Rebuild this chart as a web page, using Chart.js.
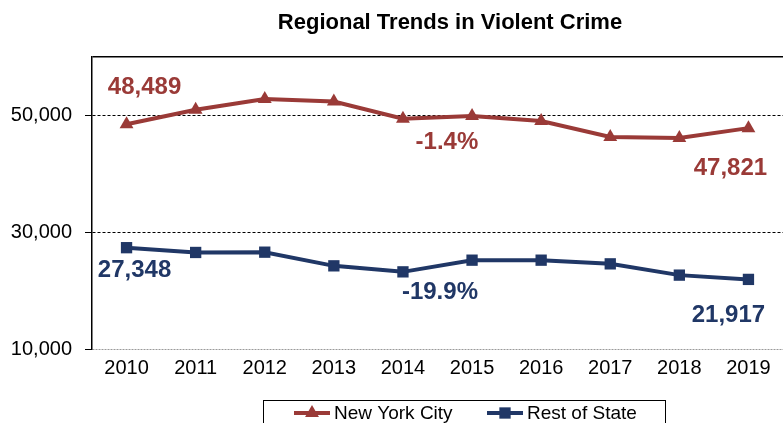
<!DOCTYPE html>
<html lang="en">
<head>
    <meta charset="UTF-8">
    <title>Regional Trends in Violent Crime</title>
    <script src="https://cdn.jsdelivr.net/npm/chart.js"></script>
    <style>
        html, body { margin: 0; padding: 0; background: #fff; }
        #wrap { width: 783px; height: 423px; }
    </style>
</head>
<body>
    <div id="wrap"><canvas id="crimeChart" width="783" height="423"></canvas></div>

    <script>
        const years = ["2010", "2011", "2012", "2013", "2014", "2015", "2016", "2017", "2018", "2019"];
        const nycValues = [48489, 50970, 52790, 52390, 49430, 49880, 49030, 46290, 46120, 47821];
        const restValues = [27348, 26530, 26580, 24240, 23210, 25210, 25210, 24580, 22650, 21917];
        const yTicks = [10000, 30000, 50000, 60000];

        const RED = "#9a3a37";
        const NAVY = "#203766";
        const FONT = "'Liberation Sans', Arial, sans-serif";

        // text callouts: [dataset, point index, text, dx, dy]
        const callouts = [
            [0, 0, "48,489", 18, -37],
            [0, 4, "-1.4%", 44, 24],
            [0, 9, "47,821", -18, 40],
            [1, 0, "27,348", 8, 23],
            [1, 4, "-19.9%", 37, 21],
            [1, 9, "21,917", -20, 36]
        ];

        const extras = {
            id: "extras",
            afterDraw(chart) {
                const ctx = chart.ctx;
                ctx.save();
                // title
                ctx.fillStyle = "#000";
                ctx.font = "bold 22px " + FONT;
                ctx.textAlign = "center";
                ctx.textBaseline = "middle";
                ctx.fillText("Regional Trends in Violent Crime", 450, 23);

                // callouts
                ctx.font = "bold 24px " + FONT;
                callouts.forEach(([ds, i, txt, dx, dy]) => {
                    const pt = chart.getDatasetMeta(ds).data[i];
                    ctx.fillStyle = chart.data.datasets[ds].borderColor;
                    ctx.fillText(txt, pt.x + dx, pt.y + dy);
                });

                // legend box
                ctx.strokeStyle = "#000";
                ctx.lineWidth = 1;
                ctx.strokeRect(263.5, 400.5, 402, 40);
                ctx.font = "19px " + FONT;
                ctx.textAlign = "left";
                const items = [[0, 294], [1, 487]];
                items.forEach(([ds, x]) => {
                    const d = chart.data.datasets[ds];
                    const y = 413;
                    ctx.strokeStyle = d.borderColor;
                    ctx.lineWidth = 4;
                    ctx.beginPath();
                    ctx.moveTo(x, y);
                    ctx.lineTo(x + 36, y);
                    ctx.stroke();
                    ctx.fillStyle = d.borderColor;
                    Chart.helpers.drawPoint(ctx, {
                        pointStyle: d.pointStyle,
                        radius: d.pointRadius,
                        borderWidth: 0,
                        rotation: 0
                    }, x + 18, y);
                    ctx.fillStyle = "#000";
                    ctx.fillText(d.label, x + 40, y + 1);
                });
                ctx.restore();
            }
        };

        new Chart(document.getElementById("crimeChart"), {
            type: "line",
            data: {
                labels: years,
                datasets: [{
                    label: "New York City",
                    data: nycValues,
                    borderColor: RED,
                    backgroundColor: RED,
                    borderWidth: 4,
                    pointStyle: "triangle",
                    pointRadius: 8,
                    pointBorderWidth: 0,
                    tension: 0
                }, {
                    label: "Rest of State",
                    data: restValues,
                    borderColor: NAVY,
                    backgroundColor: NAVY,
                    borderWidth: 4,
                    pointStyle: "rect",
                    pointRadius: 8,
                    pointBorderWidth: 0,
                    tension: 0
                }]
            },
            options: {
                responsive: false,
                animation: false,
                layout: { autoPadding: false, padding: { top: 57, bottom: 44, left: 0, right: 0 } },
                plugins: {
                    legend: { display: false },
                    title: { display: false },
                    tooltip: { enabled: false }
                },
                scales: {
                    x: {
                        offset: true,
                        grid: { display: false, drawTicks: false },
                        border: { display: false },
                        ticks: { color: "#000", font: { family: FONT, size: 20 }, padding: 7, maxRotation: 0 },
                        afterFit: (s) => { s.height = 30; s.paddingLeft = 0; s.paddingRight = 0; }
                    },
                    y: {
                        min: 10000,
                        max: 60000,
                        afterBuildTicks: (s) => { s.ticks = yTicks.map(v => ({ value: v })); },
                        afterFit: (s) => { s.width = 92; },
                        grid: {
                            color: (c) => c.tick && c.tick.value === 10000 ? "#9a9a9a" : "#000",
                            lineWidth: (c) => c.tick && c.tick.value === 60000 ? 1.5 : 1,
                            tickLength: 7,
                            tickColor: (c) => c.tick && c.tick.value === 60000 ? "rgba(0,0,0,0)" : "#000",
                            tickBorderDash: [],
                            drawOnChartArea: true
                        },
                        border: {
                            color: "#000",
                            width: 1.5,
                            dash: (c) => {
                                if (!c.tick) return [];
                                if (c.tick.value === 60000) return [];
                                if (c.tick.value === 10000) return [2, 1];
                                return [3, 2];
                            }
                        },
                        ticks: {
                            color: "#000",
                            font: { family: FONT, size: 20 },
                            padding: 13,
                            callback: (v) => v === 60000 ? "" : v.toLocaleString("en-US")
                        }
                    }
                }
            },
            plugins: [extras]
        });
    </script>
</body>
</html>
